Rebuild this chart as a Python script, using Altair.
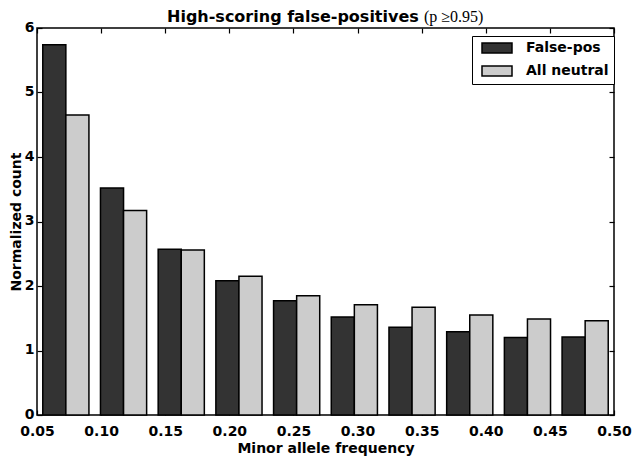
import altair as alt
import pandas as pd

# ---- data ----
bin_starts = [0.05, 0.095, 0.14, 0.185, 0.23, 0.275, 0.32, 0.365, 0.41, 0.455]
bin_width = 0.045
false_pos = [5.74, 3.52, 2.57, 2.08, 1.77, 1.52, 1.36, 1.29, 1.20, 1.21]
all_neutral = [4.65, 3.17, 2.56, 2.15, 1.85, 1.71, 1.67, 1.55, 1.49, 1.46]
series = ["False-pos", "All neutral"]
series_colors = ["#333333", "#cccccc"]
x_ticks = [0.05, 0.10, 0.15, 0.20, 0.25, 0.30, 0.35, 0.40, 0.45, 0.50]
y_ticks = [0, 1, 2, 3, 4, 5, 6]
title_main = "High-scoring false-positives"
title_math = "(p \u22650.95)"

rwidth = 0.8
rows = []
for i, start in enumerate(bin_starts):
    left = start + bin_width * (1 - rwidth) / 2
    w = bin_width * rwidth / 2
    for j, (name, vals) in enumerate(zip(series, [false_pos, all_neutral])):
        rows.append({"series": name, "x": left + j * w, "x2": left + (j + 1) * w,
                     "value": vals[i]})
df = pd.DataFrame(rows)

FONT = "DejaVu Sans"
W, H = 577, 387
x_scale = alt.Scale(domain=[0.05, 0.50], nice=False, zero=False)
y_scale = alt.Scale(domain=[0, 6], nice=False)

common_axis = dict(offset=-5, tickSize=5, domain=False, grid=False, tickColor="black",
                   tickWidth=1.2, labelFont=FONT, labelFontSize=14, labelFontWeight="bold",
                   labelColor="black", titleFont=FONT, titleFontSize=14,
                   titleFontWeight="bold", titleColor="black")

bars = alt.Chart(df).mark_rect(stroke="black", strokeWidth=1.5, opacity=1).encode(
    x=alt.X("x:Q", scale=x_scale,
            axis=alt.Axis(values=x_ticks, format=".2f", title="Minor allele frequency",
                          orient="bottom", labelPadding=9, titlePadding=3,
                          labelFlush=False, labelOverlap=False, **common_axis)),
    x2="x2:Q",
    y=alt.Y("value:Q", scale=y_scale,
            axis=alt.Axis(values=y_ticks, format="d", title="Normalized count",
                          orient="left", labelPadding=3, titlePadding=1, labelOffset=-1,
                          labelFlush=False, labelOverlap=False, **common_axis)),
    y2=alt.datum(0),
    color=alt.Color("series:N", scale=alt.Scale(domain=series, range=series_colors),
                    legend=alt.Legend(orient="none", legendX=435, legendY=8, title=None,
                                      direction="vertical", fillColor="white",
                                      strokeColor="black", padding=5,
                                      symbolType="M-3,-1L3,-1L3,1L-3,1Z",
                                      symbolSize=100, symbolStrokeColor="black",
                                      symbolStrokeWidth=1.5, symbolOpacity=1,
                                      symbolOffset=13, labelOffset=22, rowPadding=7,
                                      labelFont=FONT, labelFontSize=14,
                                      labelFontWeight="bold", labelColor="black")),
)

frame_axes = alt.Chart(df).mark_point(opacity=0).encode(
    x=alt.X("x:Q", scale=x_scale,
            axis=alt.Axis(values=x_ticks, orient="top", labels=False, title=None,
                          **common_axis)),
    y=alt.Y("value:Q", scale=y_scale,
            axis=alt.Axis(values=y_ticks, orient="right", labels=False, title=None,
                          **common_axis)),
)

title_df = pd.DataFrame({"t": [title_main]})
math_df = pd.DataFrame({"t": [title_math]})
title_text = alt.Chart(title_df).mark_text(
    align="left", baseline="alphabetic", font=FONT, fontSize=16, fontWeight="bold",
    color="black").encode(x=alt.value(130), y=alt.value(-6), text="t:N")
math_text = alt.Chart(math_df).mark_text(
    align="left", baseline="alphabetic", font="Liberation Serif", fontSize=16,
    color="black").encode(x=alt.value(387), y=alt.value(-6), text="t:N")

chart = alt.layer(bars, frame_axes, title_text, math_text).resolve_axis(
    x="independent", y="independent"
).properties(
    width=W, height=H,
    padding={"left": 29, "top": 20, "right": 18, "bottom": 42},
    autosize=alt.AutoSizeParams(type="none"),
).configure_view(stroke="black", strokeWidth=1.5)

chart.save("out.html", embed_options={"renderer": "svg", "actions": False})
